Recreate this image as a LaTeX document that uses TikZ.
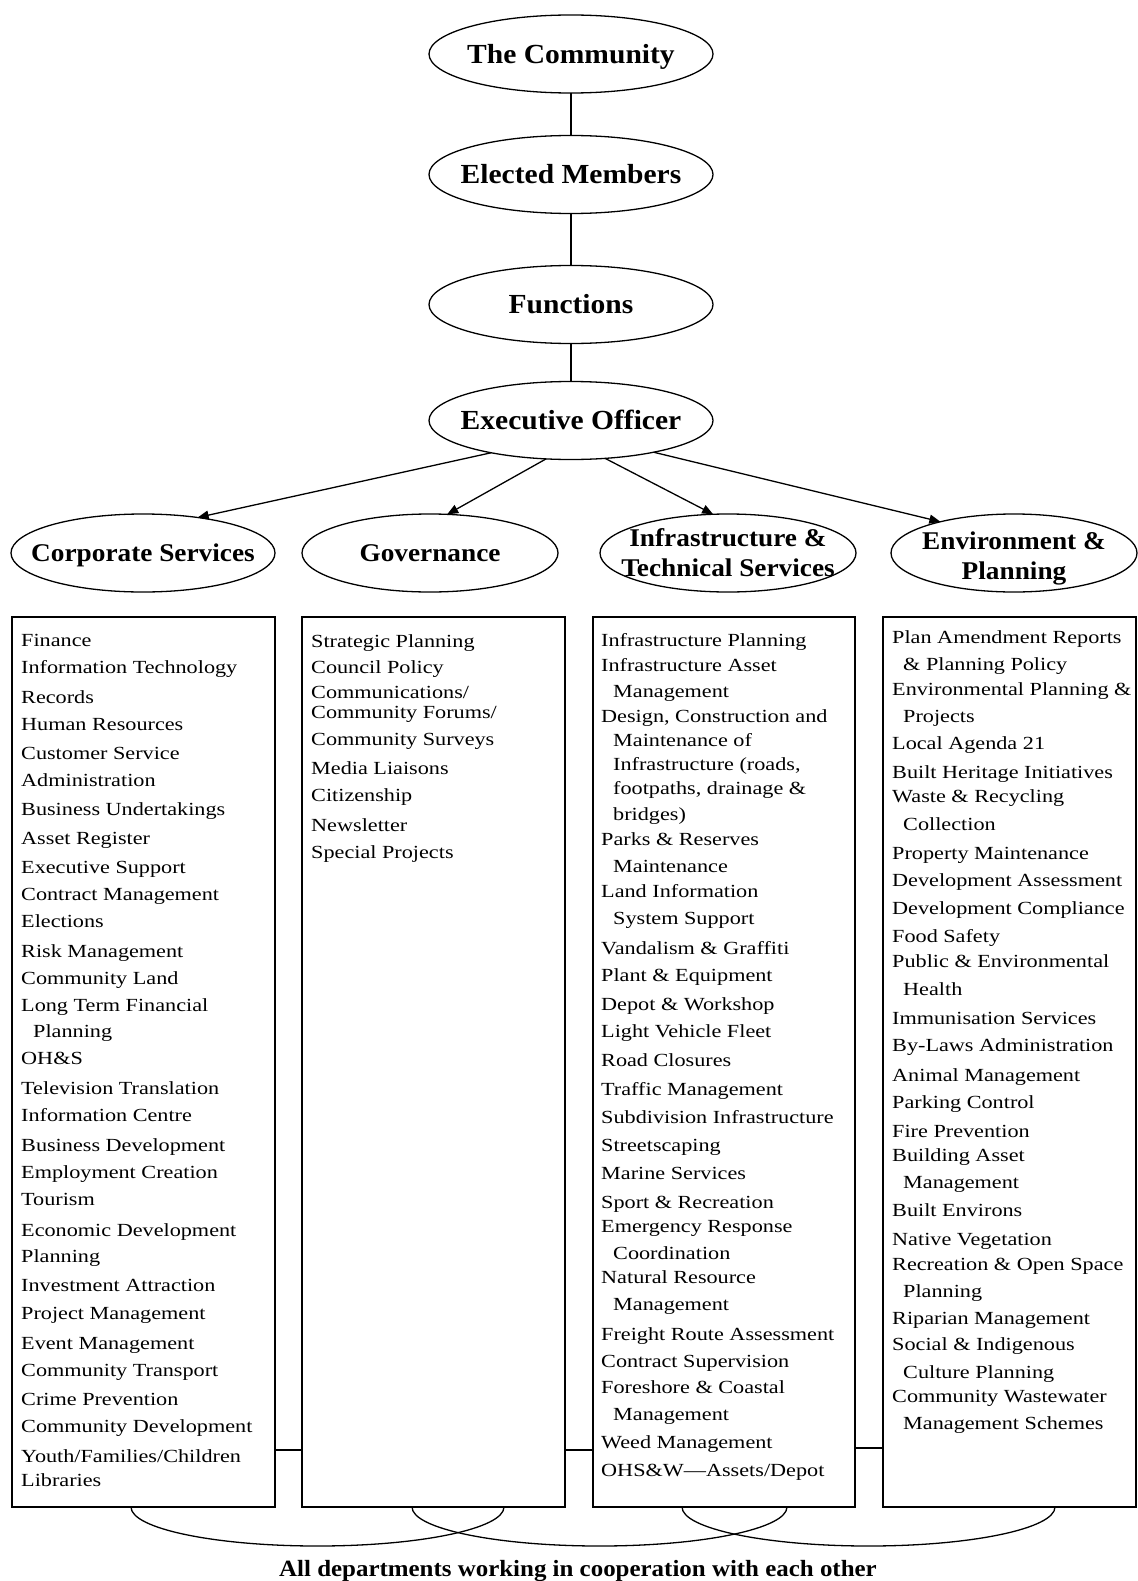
\documentclass[tikz,border=0pt]{standalone}
\usepackage{fontspec}
\setmainfont{Liberation Serif}
\newfontfamily\bodyfont[FakeStretch=1.2]{Liberation Serif}
\newfontfamily\labfont[FakeStretch=1.07]{Liberation Serif}
\usetikzlibrary{shapes.geometric,arrows.meta}
\tikzset{
  conn/.style={line width=1.3pt},
  arr/.style={line width=1.3pt,-{Triangle[length=11pt,width=9pt]}},
  ell/.style={draw,ellipse,line width=1.3pt,inner sep=0pt,outer sep=0pt,minimum height=78pt},
  toplab/.style={font=\labfont\bfseries\fontsize{27.6}{32}\selectfont,inner sep=0pt,text height=18.5pt,text depth=0pt},
  onelab/.style={font=\labfont\bfseries\fontsize{25.5}{30}\selectfont,inner sep=0pt,text height=17pt,text depth=0pt},
  lab/.style={font=\labfont\bfseries\fontsize{25.5}{30}\selectfont,align=center,inner sep=0pt},
  deptbox/.style={draw,rectangle,line width=1.3pt,inner sep=0pt,outer sep=0pt},
  item/.style={font=\bodyfont\fontsize{18.5}{22}\selectfont,inner sep=0pt,anchor=base west},
  coopnote/.style={font=\labfont\bfseries\fontsize{23.3}{26}\selectfont,inner sep=0pt,anchor=base}
}
\begin{document}
\begin{tikzpicture}[x=1pt,y=-1pt]
\fill[white] (0,0) rectangle (1137,1581);
\useasboundingbox (0,0) rectangle (1137,1581);

% top chain
\node[ell,minimum width=284pt,label={[toplab]center:The Community}] (comm) at (571,54) {};
\node[ell,minimum width=284pt,label={[toplab]center:Elected Members}] (elect) at (571,174.5) {};
\node[ell,minimum width=284pt,label={[toplab]center:Functions}] (func) at (571,304.5) {};
\node[ell,minimum width=284pt,label={[toplab]center:Executive Officer}] (exec) at (571,420.5) {};
\draw[conn] (comm) -- (elect);
\draw[conn] (elect) -- (func);
\draw[conn] (func) -- (exec);

% departments
\node[ell,minimum width=264pt,label={[onelab]center:Corporate Services}] (corp) at (143,553) {};
\node[ell,minimum width=256pt,label={[onelab]center:Governance}] (gov) at (430,553) {};
\node[ell,minimum width=256pt,label={[lab]center:{Infrastructure \&\\Technical Services}}] (infra) at (728,553) {};
\node[ell,minimum width=246pt,label={[lab,yshift=-5pt]center:{Environment \&\\Planning}}] (env) at (1014,553) {};

\draw[arr] (exec.202) -- (corp.33);
\draw[arr] (exec.237) -- (gov.66);
\draw[arr] (exec.-48) -- (infra.111);
\draw[arr] (exec.-21) -- (env.157);

% boxes
\node[deptbox,minimum width=263pt,minimum height=890pt] (b1) at (143.5,1062) {};
\node[deptbox,minimum width=263pt,minimum height=890pt] (b2) at (433.5,1062) {};
\node[deptbox,minimum width=262pt,minimum height=890pt] (b3) at (724,1062) {};
\node[deptbox,minimum width=253pt,minimum height=890pt] (b4) at (1009.5,1062) {};

\coordinate (cya) at (0,1450);
\coordinate (cyb) at (0,1448);
\draw[conn] (b1.east |- cya) -- (b2.west |- cya);
\draw[conn] (b2.east |- cya) -- (b3.west |- cya);
\draw[conn] (b3.east |- cyb) -- (b4.west |- cyb);

% cooperation arcs
\coordinate (a1) at (131,1507);
\coordinate (a2) at (412,1507);
\coordinate (a3) at (682,1507);
\draw[conn] (a1) arc[start angle=180,end angle=360,x radius=186.5pt,y radius=39pt];
\draw[conn] (a2) arc[start angle=180,end angle=360,x radius=187.5pt,y radius=39pt];
\draw[conn] (a3) arc[start angle=180,end angle=360,x radius=186.5pt,y radius=39pt];

\node[coopnote] (coop) at (578,1576) {All departments working in cooperation with each other};

% box 1 items
\foreach \yy/\ind/\txt [count=\k] in {
646/0/{Finance},
673/0/{Information Technology},
703/0/{Records},
730/0/{Human Resources},
759/0/{Customer Service},
786/0/{Administration},
815/0/{Business Undertakings},
844/0/{Asset Register},
873/0/{Executive Support},
900/0/{Contract Management},
927/0/{Elections},
957/0/{Risk Management},
984/0/{Community Land},
1011/0/{Long Term Financial},
1037/12/{Planning},
1064/0/{OH\&S},
1094/0/{Television Translation},
1121/0/{Information Centre},
1151/0/{Business Development},
1178/0/{Employment Creation},
1205/0/{Tourism},
1236/0/{Economic Development},
1262/0/{Planning},
1291/0/{Investment Attraction},
1319/0/{Project Management},
1349/0/{Event Management},
1376/0/{Community Transport},
1405/0/{Crime Prevention},
1432/0/{Community Development},
1462/0/{Youth\slash Families\slash Children},
1486/0/{Libraries}}
  \node[item] (cs\k) at (21+\ind,\yy) {\txt};

% box 2 items
\foreach \yy/\ind/\txt [count=\k] in {
647/0/{Strategic Planning},
673/0/{Council Policy},
698/0/{Communications\slash},
718/0/{Community Forums\slash},
745/0/{Community Surveys},
774/0/{Media Liaisons},
801/0/{Citizenship},
831/0/{Newsletter},
858/0/{Special Projects}}
  \node[item] (gv\k) at (311+\ind,\yy) {\txt};

% box 3 items
\foreach \yy/\ind/\txt [count=\k] in {
646/0/{Infrastructure Planning},
671/0/{Infrastructure Asset},
697/12/{Management},
722/0/{Design, Construction and},
746/12/{Maintenance of},
770/12/{Infrastructure (roads,},
794/12/{footpaths, drainage \&},
820/12/{bridges)},
845/0/{Parks \& Reserves},
872/12/{Maintenance},
897/0/{Land Information},
924/12/{System Support},
954/0/{Vandalism \& Graffiti},
981/0/{Plant \& Equipment},
1010/0/{Depot \& Workshop},
1037/0/{Light Vehicle Fleet},
1066/0/{Road Closures},
1095/0/{Traffic Management},
1123/0/{Subdivision Infrastructure},
1151/0/{Streetscaping},
1179/0/{Marine Services},
1208/0/{Sport \& Recreation},
1232/0/{Emergency Response},
1259/12/{Coordination},
1283/0/{Natural Resource},
1310/12/{Management},
1340/0/{Freight Route Assessment},
1367/0/{Contract Supervision},
1393/0/{Foreshore \& Coastal},
1420/12/{Management},
1448/0/{Weed Management},
1476/0/{OHS\&W—Assets\slash Depot}}
  \node[item] (it\k) at (601+\ind,\yy) {\txt};

% box 4 items
\foreach \yy/\ind/\txt [count=\k] in {
643/0/{Plan Amendment Reports},
670/11/{\& Planning Policy},
695/0/{Environmental Planning \&},
722/11/{Projects},
749/0/{Local Agenda 21},
778/0/{Built Heritage Initiatives},
802/0/{Waste \& Recycling},
830/11/{Collection},
859/0/{Property Maintenance},
886/0/{Development Assessment},
914/0/{Development Compliance},
942/0/{Food Safety},
967/0/{Public \& Environmental},
995/11/{Health},
1024/0/{Immunisation Services},
1051/0/{By-Laws Administration},
1081/0/{Animal Management},
1108/0/{Parking Control},
1137/0/{Fire Prevention},
1161/0/{Building Asset},
1188/11/{Management},
1216/0/{Built Environs},
1245/0/{Native Vegetation},
1270/0/{Recreation \& Open Space},
1297/11/{Planning},
1324/0/{Riparian Management},
1350/0/{Social \& Indigenous},
1378/11/{Culture Planning},
1402/0/{Community Wastewater},
1429/11/{Management Schemes}}
  \node[item] (ep\k) at (892+\ind,\yy) {\txt};
\end{tikzpicture}
\end{document}
